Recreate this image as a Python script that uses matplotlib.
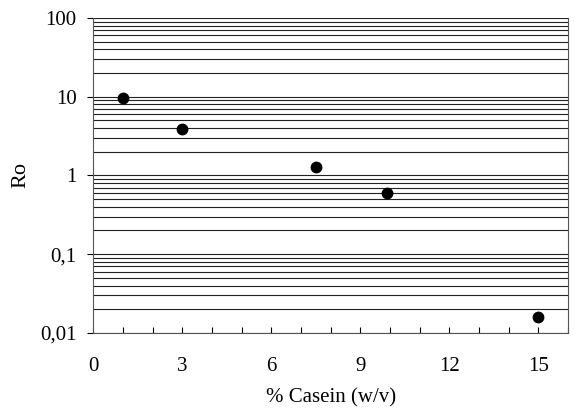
import matplotlib
matplotlib.use('Agg')
import matplotlib.pyplot as plt
from matplotlib.ticker import FixedLocator, FuncFormatter, MultipleLocator
import numpy as np

# data
casein = [1.0, 3.0, 7.5, 9.9, 15.0]
ro = [9.6, 3.9, 1.27, 0.6, 0.016]

y_ticks = [0.01, 0.1, 1, 10, 100]
x_ticks = [0, 3, 6, 9, 12, 15]

plt.rcParams['font.family'] = ['Liberation Serif', 'DejaVu Serif']

fig = plt.figure(figsize=(5.75, 4.08), dpi=100)
ax = fig.add_axes([0.162, 0.184, 0.826, 0.772])

# horizontal grid at every log step
grid_vals = []
for dec in [0.01, 0.1, 1, 10]:
    for k in range(1, 10):
        grid_vals.append(dec * k)
grid_vals.append(100)
for g in grid_vals:
    ax.axhline(g, color='#222222', lw=0.8, zorder=1)

ax.plot(casein, ro, 'o', color='black', ms=7.5, zorder=3)

ax.set_yscale('log')
ax.set_ylim(0.01, 100)
ax.set_xlim(0, 16)

ax.yaxis.set_major_locator(FixedLocator(y_ticks))
ax.yaxis.set_minor_locator(FixedLocator([]))
ax.yaxis.set_major_formatter(FuncFormatter(lambda v, p: ('%g' % v).replace('.', ',')))
ax.xaxis.set_major_locator(FixedLocator(x_ticks))
ax.xaxis.set_minor_locator(MultipleLocator(1))

ax.tick_params(axis='x', which='both', direction='in', length=4, width=0.8, labelsize=15, pad=17)
ax.tick_params(axis='y', which='major', direction='out', length=4, width=0.8, labelsize=15, pad=8)

ax.spines['top'].set_visible(False)
for s in ['left', 'right', 'bottom']:
    ax.spines[s].set_color('#555555')
    ax.spines[s].set_linewidth(0.8)

ax.set_xlabel('% Casein (w/v)', fontsize=15, labelpad=9)
ax.set_ylabel('Ro', fontsize=16, labelpad=7)

fig.savefig('out.png', dpi=100)
